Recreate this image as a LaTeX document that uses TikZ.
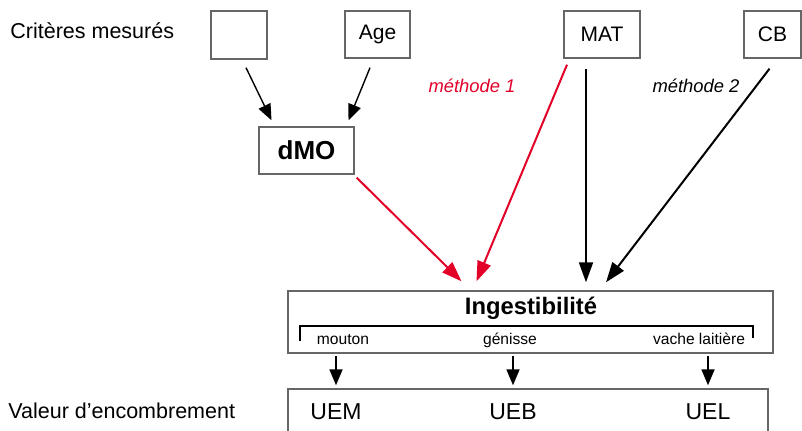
\documentclass[tikz,border=0pt]{standalone}
\usepackage{fontspec}
\setmainfont{Liberation Sans}
\usetikzlibrary{arrows.meta,calc}
\definecolor{methred}{RGB}{226,0,40}
\begin{document}
\begin{tikzpicture}[x=0.5pt,y=-0.5pt,
  box/.style={draw=black!60,line width=0.7pt,inner sep=0pt},
  arr/.style={-{Triangle[length=10pt,width=7pt]},line width=1pt},
  smallarr/.style={-{Triangle[length=8pt,width=6.5pt]},line width=0.7pt},
  txt/.style={font=\fontsize{10.75}{12}\selectfont,inner sep=0pt,anchor=base}]
\clip (0,0) rectangle (802,431);
% criteres mesures
\node[txt,anchor=base west] (crit) at (10,39) {Critères mesurés};
\node[box,minimum width=28pt,minimum height=24pt] (vide) at (239,35) {};
\node[box,minimum width=32.5pt,minimum height=23.5pt,font=\fontsize{10.5}{12}\selectfont] (age) at (377.5,34.5) {Age};
\node[box,minimum width=38pt,minimum height=23.5pt,font=\fontsize{10.5}{12}\selectfont] (mat) at (602,34.5) {MAT};
\node[box,minimum width=28.5pt,minimum height=23.5pt,font=\fontsize{10.5}{12}\selectfont] (cb) at (772.5,34.5) {CB};
\node[box,minimum width=47.5pt,minimum height=23.5pt,font=\fontsize{13}{14}\selectfont\bfseries] (dmo) at (306.5,150.5) {dMO};
\node[txt,font=\fontsize{9.2}{11}\selectfont\itshape,text=methred] (meth1) at (472,93) {méthode 1};
\node[txt,font=\fontsize{9.2}{11}\selectfont\itshape] (meth2) at (696,93) {méthode 2};
% ingestibilite
\node[box,minimum width=242.5pt,minimum height=31pt] (ing) at (530.5,322) {};
\node[txt,font=\fontsize{11.9}{13}\selectfont\bfseries] (ingt) at (531,315) {Ingestibilité};
\draw[line width=0.55pt] (300,341) |- (753,326) -- (753,338);
\node[txt,font=\fontsize{7.8}{9}\selectfont] (mouton) at (343,345) {mouton};
\node[txt,font=\fontsize{7.8}{9}\selectfont] (genisse) at (510,345) {génisse};
\node[txt,font=\fontsize{7.8}{9}\selectfont] (vache) at (699,345) {vache laitière};
% valeur d'encombrement
\node[txt,anchor=base west] (valt) at (8,419) {Valeur d’encombrement};
\node[box,minimum width=240pt,minimum height=26pt] (val) at (528,415) {};
\node[txt,font=\fontsize{11.5}{13}\selectfont] (uem) at (336,420) {UEM};
\node[txt,font=\fontsize{11.5}{13}\selectfont] (ueb) at (513,420) {UEB};
\node[txt,font=\fontsize{11.5}{13}\selectfont] (uel) at (708,420) {UEL};
% fleches
\draw[smallarr] ($(vide.south)+(7,8)$) -- ($(dmo.north)+(-35,-6)$);
\draw[smallarr] ($(age.south)+(-7.5,9)$) -- ($(dmo.north)+(42,-6)$);
\draw[arr,methred] ($(dmo.south east)+(2,3)$) -- ($(ing.north)+(-69,-9)$);
\draw[arr,methred] ($(mat.south)+(-35,6)$) -- ($(ing.north)+(-54,-9)$);
\draw[arr] ($(mat.south)+(-16,10)$) -- ($(ing.north)+(55.5,-8)$);
\draw[arr] ($(cb.south)+(-3,10)$) -- ($(ing.north)+(75.5,-8)$);
\foreach \ue in {uem,ueb,uel}{
\draw[smallarr,line width=0.9pt] ($(ing.south -| \ue.base)+(0,2)$) -- ($(val.north -| \ue.base)+(0,-3)$);
}
\end{tikzpicture}
\end{document}
